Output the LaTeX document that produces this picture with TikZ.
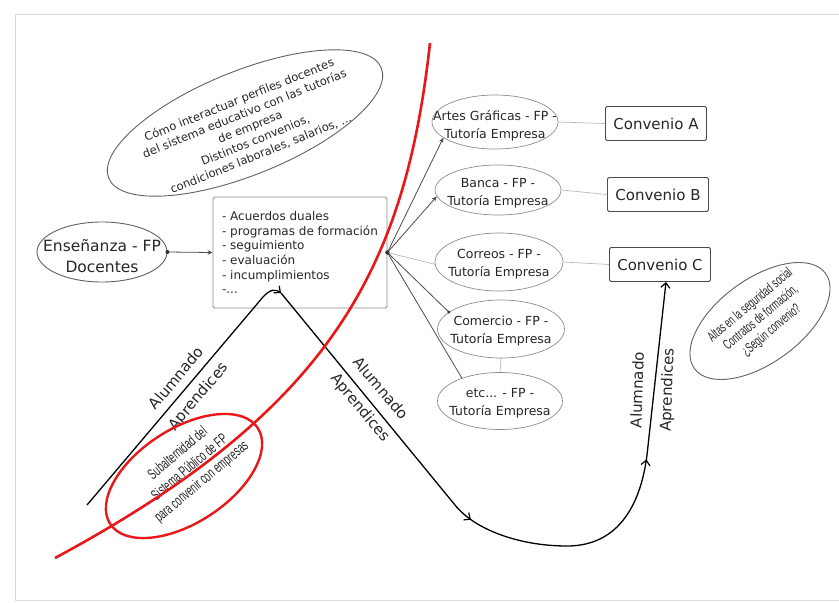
\documentclass[tikz,border=0pt]{standalone}
\usepackage{fontspec}
\setmainfont{DejaVu Sans}
\newfontfamily\narrowfont[FakeStretch=0.62]{Liberation Sans}
\usetikzlibrary{shapes.geometric,arrows.meta,decorations.markings}
\definecolor{myred}{RGB}{232,24,24}
\begin{document}
\begin{tikzpicture}[x=1pt,y=-1pt,
  txt/.style={text=black!85, inner sep=0pt, align=center},
  ell/.style={ellipse, draw=black!62, line width=0.9pt, inner sep=0pt},
  rell/.style={ellipse, draw=black!45, line width=0.7pt, inner sep=0pt},
  conv/.style={rectangle, draw=black!70, line width=0.9pt, rounded corners=1.5pt,
    minimum width=101pt, minimum height=34pt, font=\fontsize{15}{18}\selectfont, text=black!85},
  ftxt/.style={txt, font=\fontsize{12.5}{18}\selectfont},
  lite/.style={draw=black!28, line width=0.7pt},
  fanln/.style={draw=black!70, line width=0.8pt},
  flow/.style={draw=black, line width=1.3pt},
  lab/.style={font=\fontsize{15}{18}\selectfont, text=black!85, inner sep=0pt},
  barbtip/.style={-{Straight Barb[length=5pt,width=9pt,line width=1.2pt]}},
  smtip/.style={-{Stealth[length=5pt,width=4.5pt]}},
  ]
\useasboundingbox (0,0) rectangle (839,603);
\draw[black!15, line width=1pt] (850,14) -- (15,14) -- (15,600) -- (850,600);

% top-left ellipse
\node[ell, minimum width=294pt, minimum height=104pt, rotate=22] (topell) at (245,123) {};
\node[txt, rotate=22, font=\fontsize{11.5}{14.5}\selectfont] (topT) at (250,127)
  {Cómo interactuar perfiles docentes\\del sistema educativo con las tutorías\\de empresa\\Distintos convenios,\\condiciones laborales, salarios, ...};

% Enseñanza
\node[ell, minimum width=130pt, minimum height=60pt] (ens) at (102,252) {};
\node[txt, font=\fontsize{15.5}{21}\selectfont] (ensT) at (102,256) {Enseñanza - FP\\Docentes};

% central box
\node[draw=black!45, line width=0.8pt, rounded corners=1.5pt, minimum width=174pt,
  minimum height=111pt, align=left, font=\fontsize{12}{14.7}\selectfont, text=black!85] (box) at (300,252.5)
  {- Acuerdos duales\\- programas de formación\\- seguimiento\\- evaluación\\- incumplimientos\\-...};

% right ellipses
\node[rell, minimum width=126pt, minimum height=54pt] (artes) at (495,122) {};
\node[ftxt] (artesT) at (495,126) {Artes Gráficas - FP -\\Tutoría Empresa};
\node[rell, minimum width=126pt, minimum height=50pt] (banca) at (498,190) {};
\node[ftxt] (bancaT) at (498,193) {Banca - FP -\\Tutoría Empresa};
\node[rell, minimum width=128pt, minimum height=58pt] (correos) at (499,262) {};
\node[ftxt] (correosT) at (499,264) {Correos - FP -\\Tutoría Empresa};
\node[rell, minimum width=127pt, minimum height=58pt] (comercio) at (501,329) {};
\node[ftxt] (comercioT) at (501,331) {Comercio - FP -\\Tutoría Empresa};
\node[rell, minimum width=125pt, minimum height=57pt] (etc) at (500,401) {};
\node[ftxt] (etcT) at (500,403) {etc... - FP -\\Tutoría Empresa};

% convenios
\node[conv] (convA) at (656,123.5) {Convenio A};
\node[conv] (convB) at (658,194.5) {Convenio B};
\node[conv] (convC) at (660,264.5) {Convenio C};

\draw[lite] (artes.east) -- (convA.west);
\draw[lite] (banca.east) -- (convB.west);
\draw[lite] (correos.east) -- (convC.west);
\draw[lite] (comercio.south) -- (etc.north);

% Enseñanza -> box
\draw[fanln, smtip] (ens.east) -- (box.west);
\fill[black!80] (ens.east) circle (2pt);

% fan
\draw[fanln, smtip] (box.east) -- (artes.197);
\draw[fanln, smtip] (box.east) -- (banca.186);
\draw[lite] (box.east) -- (correos.182);
\draw[fanln] (box.east) -- (comercio.162);
\fill[black!80] (comercio.162) circle (1.6pt);
\draw[fanln] (box.east) -- (etc.149);
\fill[black!80] (box.east) circle (2.2pt);

% right ellipse
\node[ell, minimum width=162pt, minimum height=84pt, rotate=36] (altas) at (760,321) {};
\node[txt, rotate=40, font=\narrowfont\fontsize{14}{16.5}\selectfont] (altasT) at (761,318)
  {Altas en la seguridad social\\Contratos de formación,\\¿Según convenio?};

% flow path
\coordinate (s1) at (87,505);
\coordinate (apex) at (281,293);
\coordinate (k1) at (455,505);
\coordinate (bot) at (567,546);
\coordinate (k2) at (647,455);
\draw[flow, barbtip] (s1) -- (263,297) .. controls (270,289) and (276,289) .. (apex);
\draw[flow, barbtip, postaction={decorate}, decoration={markings,
   mark=at position 296pt with {\arrow{Straight Barb[length=5pt,width=9pt,line width=1.2pt]}},
   mark=at position 527pt with {\arrow{Straight Barb[length=5pt,width=9pt,line width=1.2pt]}}}]
  (apex) -- (k1) .. controls (475,530) and (520,546) .. (bot)
  .. controls (615,546) and (640,510) .. (k2) -- ([xshift=6pt]convC.south);

\node[lab, rotate=50] (alu1) at (176,378) {Alumnado};
\node[lab, rotate=50] (apr1) at (199,397) {Aprendices};
\node[lab, rotate=-50] (alu2) at (381,388) {Alumnado};
\node[lab, rotate=-50] (apr2) at (360,408) {Aprendices};
\node[lab, rotate=88] (alu3) at (637,390) {Alumnado};
\node[lab, rotate=88] (apr3) at (668,390) {Aprendices};

% red ellipse text
\node[txt, rotate=40, font=\narrowfont\fontsize{15}{18.5}\selectfont] (redT) at (190,468)
  {Subalternidad del\\Sistema Público de FP\\para convenir con empresas};

% red
\coordinate (rtop) at (430,43);
\coordinate (rbot) at (55,558);
\draw[myred, line width=2.6pt] (rtop) .. controls (405,270) and (330,410) .. (rbot);
\node[ellipse, draw=myred, line width=2.4pt, inner sep=0pt, minimum width=176pt,
  minimum height=94pt, rotate=33] (redell) at (184,476) {};
\end{tikzpicture}
\end{document}
